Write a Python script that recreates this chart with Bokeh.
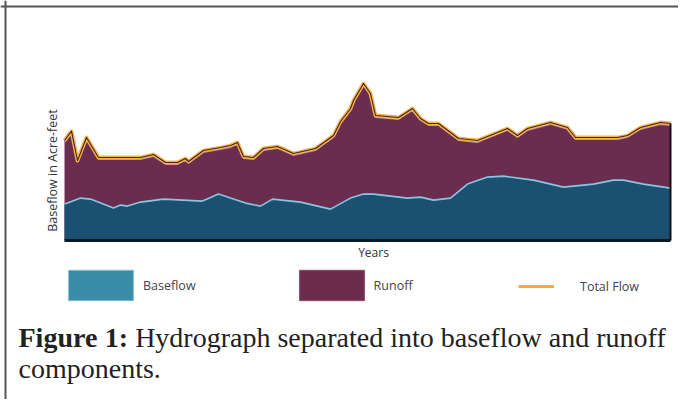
from math import pi
from bokeh.plotting import figure
from bokeh.models import Range1d, Label, Span, Legend, LegendItem, ColumnDataSource
from bokeh.embed import file_html
from bokeh.resources import INLINE

# ---- data (years, acre-feet) ----
total_years = [1950.0, 1950.7, 1951.3, 1952.2, 1953.4, 1956.3, 1957.6, 1958.9, 1960.1, 1961.3,
               1962.1, 1962.4, 1963.9, 1965.6, 1966.6, 1967.3, 1967.9, 1968.9, 1969.9, 1971.3,
               1972.9, 1975.1, 1976.9, 1977.6, 1978.6, 1978.9, 1979.9, 1980.6, 1981.1, 1983.4,
               1984.8, 1985.6, 1986.4, 1987.4, 1989.4, 1991.3, 1994.3, 1995.3, 1996.3, 1998.6,
               2000.3, 2001.1, 2005.3, 2006.3, 2007.6, 2009.6, 2010.6]
total_flow = [10000, 10930, 8000, 10300, 8300, 8300, 8300, 8600, 7800, 7800,
              8200, 7900, 9000, 9300, 9500, 9800, 8400, 8300, 9200, 9400,
              8700, 9200, 10500, 11900, 13200, 14000, 15700, 14700, 12500, 12300,
              13200, 12200, 11700, 11700, 10200, 10000, 11200, 10500, 11200, 11800,
              11300, 10300, 10300, 10500, 11300, 11800, 11700]

base_years = [1950.0, 1950.3, 1951.6, 1952.6, 1954.9, 1955.6, 1956.3, 1957.6, 1959.9, 1963.8,
              1965.4, 1968.1, 1969.6, 1970.8, 1973.6, 1976.6, 1978.6, 1979.9, 1980.9, 1984.3,
              1985.6, 1986.9, 1988.6, 1990.3, 1992.3, 1993.9, 1996.9, 1999.9, 2002.9, 2004.9,
              2005.9, 2007.9, 2010.6]
baseflow = [3700, 3800, 4300, 4200, 3300, 3600, 3500, 3900, 4200, 4000,
            4700, 3800, 3500, 4200, 3900, 3200, 4300, 4700, 4700, 4300,
            4400, 4100, 4300, 5700, 6400, 6500, 6100, 5400, 5700, 6100,
            6100, 5700, 5300]

legend_labels = ["Baseflow", "Runoff", "Total Flow"]
caption_bold = ["Figure", "1:"]
caption_line1 = ["Hydrograph", "separated", "into", "baseflow", "and", "runoff"]
caption_line2 = "components."

# ---- page geometry helpers (page pixel -> data) ----
W, H = 678, 399
X0 = 1943.6
X1 = X0 + W / 10.0
Y1 = 24000.0
Y0 = Y1 - H * 100.0


def X(px):
    return X0 + px * (X1 - X0) / W


def Y(py):
    return Y1 - py * (Y1 - Y0) / H


p = figure(width=W, height=H, output_backend="svg", toolbar_location=None,
           x_range=Range1d(X0, X1), y_range=Range1d(Y0, Y1),
           min_border=0, min_border_left=0, min_border_right=0,
           min_border_top=0, min_border_bottom=0)
p.axis.visible = False
p.grid.visible = False
p.outline_line_color = None
p.background_fill_color = "white"

src_t = ColumnDataSource(dict(x=total_years, y=total_flow,
                              y_hi=[v - 170 for v in total_flow]))
src_b = ColumnDataSource(dict(x=base_years, y=baseflow,
                              y_hi=[v - 60 for v in baseflow]))

# runoff (total) area, then baseflow on top
p.varea(x="x", y1=0, y2="y", source=src_t, fill_color="#6b2d4f")
p.varea(x="x", y1=0, y2="y", source=src_b, fill_color="#1b5070")

# bevel highlights
p.line(x="x", y="y_hi", source=src_b, line_color="#8cc6de", line_width=1.6)
p.line(x="x", y="y_hi", source=src_t, line_color="#b98bb0", line_width=1.4, line_alpha=0.9)
# total flow line (orange glow + dark core)
p.line(x="x", y="y", source=src_t, line_color="#f4b24a", line_width=3.8, line_join="round")
p.line(x="x", y="y", source=src_t, line_color="#4a2224", line_width=1.1, line_join="round")

# dark bottom / right edges
p.line(x=[total_years[0], total_years[-1]], y=[0, 0], line_color="#0b1820", line_width=3)
p.line(x=[total_years[-1], total_years[-1]], y=[0, total_flow[-1]], line_color="#1a1014", line_width=2)

# legend proxies (no visible data)
nan = float("nan")
r_b = p.quad(left=[nan], right=[nan], top=[nan], bottom=[nan],
             fill_color="#3b8ca8", line_color="#7fbdd4", line_width=1)
r_r = p.quad(left=[nan], right=[nan], top=[nan], bottom=[nan],
             fill_color="#6e2c4c", line_color="#8a4a68", line_width=1)
r_t = p.line(x=[nan], y=[nan], line_color="#f2ae3c", line_width=3)

legend_style = dict(orientation="horizontal", padding=0, margin=0, border_line_color=None,
                    background_fill_alpha=0, label_text_font="Open Sans",
                    label_text_font_size="12.5px", label_text_color="#444444")
legend = Legend(items=[LegendItem(label=legend_labels[0], renderers=[r_b]),
                       LegendItem(label=legend_labels[1], renderers=[r_r])],
                location=(60, 95), glyph_width=81, glyph_height=38,
                label_standoff=2, spacing=95, **legend_style)
p.add_layout(legend, "center")
legend2 = Legend(items=[LegendItem(label=legend_labels[2], renderers=[r_t])],
                 location=(518, 94), glyph_width=36, glyph_height=38,
                 label_standoff=26, spacing=0, **legend_style)
p.add_layout(legend2, "center")

# axis labels
p.add_layout(Label(x=X(52), y=Y(170), text="Baseflow in Acre-feet", angle=pi / 2,
                   text_align="center", text_baseline="middle", text_font="Open Sans",
                   text_font_size="12.5px", text_color="#333333"))
p.add_layout(Label(x=X(373), y=Y(252), text="Years", text_align="center",
                   text_baseline="middle", text_font="Open Sans",
                   text_font_size="12px", text_color="#333333"))

# caption, word by word (Times metrics in em)
fs = 28
space = 0.25 * fs
bold_em = [2.833, 0.833]
reg_em = [4.832, 3.776, 1.556, 3.61, 1.444, 2.499]
xpos = 18.0
for word, em in zip(caption_bold, bold_em):
    p.add_layout(Label(x=X(xpos), y=Y(337), text=word, text_font="Liberation Serif",
                       text_font_style="bold", text_font_size=f"{fs}px", text_color="#222222",
                       text_baseline="alphabetic"))
    xpos += em * fs + space
for word, em in zip(caption_line1, reg_em):
    p.add_layout(Label(x=X(xpos), y=Y(337), text=word, text_font="Liberation Serif",
                       text_font_size=f"{fs}px", text_color="#222222",
                       text_baseline="alphabetic"))
    xpos += em * fs + space
p.add_layout(Label(x=X(18), y=Y(368), text=caption_line2, text_font="Liberation Serif",
                   text_font_size=f"{fs}px", text_color="#222222", text_baseline="alphabetic"))

# frame border (left/top)
p.add_layout(Span(location=X(5), dimension="height", line_color="#555555", line_width=2))
p.add_layout(Span(location=Y(6), dimension="width", line_color="#555555", line_width=2))

open("out.html", "w").write(file_html(p, INLINE))
